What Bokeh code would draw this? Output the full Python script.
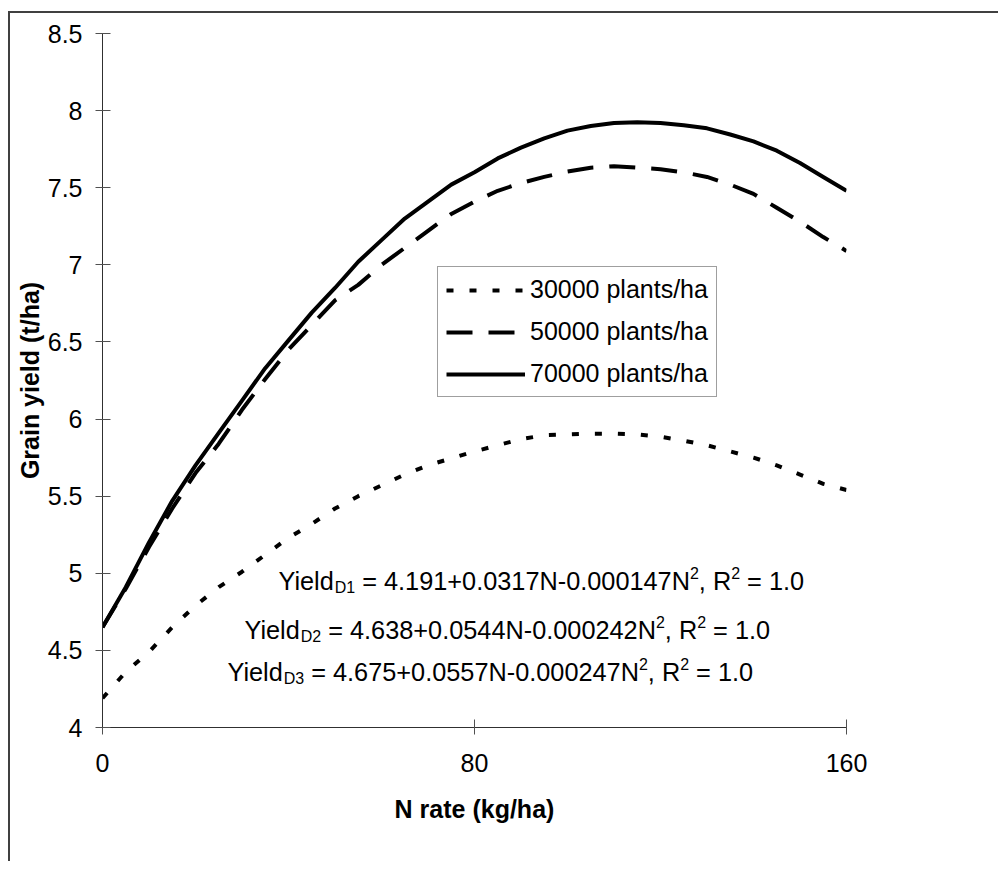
from bokeh.plotting import figure
from bokeh.models import Range1d, FixedTicker, Legend, LegendItem, Label
from bokeh.embed import file_html
from bokeh.resources import INLINE

# ---------------- data ----------------
n_rate = [0, 5, 10, 15, 20, 25, 30, 35, 40, 45, 50, 55, 60, 65, 70, 75, 80,
          85, 90, 95, 100, 105, 110, 115, 120, 125, 130, 135, 140, 145, 150, 155, 160]

yield_30000 = [4.19, 4.36, 4.49, 4.65, 4.79, 4.91, 5.01, 5.12, 5.23, 5.32, 5.42,
               5.50, 5.57, 5.64, 5.70, 5.745, 5.79, 5.83, 5.87, 5.895, 5.90, 5.905,
               5.905, 5.90, 5.885, 5.86, 5.83, 5.79, 5.75, 5.70, 5.64, 5.58, 5.54]

yield_50000 = [4.65, 4.90, 5.17, 5.42, 5.65, 5.84, 6.06, 6.26, 6.45, 6.61, 6.77,
               6.87, 7.00, 7.11, 7.22, 7.33, 7.41, 7.48, 7.53, 7.57, 7.605, 7.63,
               7.64, 7.63, 7.62, 7.60, 7.57, 7.52, 7.46, 7.37, 7.28, 7.18, 7.09]

yield_70000 = [4.65, 4.91, 5.20, 5.47, 5.70, 5.91, 6.12, 6.33, 6.51, 6.69, 6.85,
               7.02, 7.16, 7.30, 7.41, 7.52, 7.60, 7.69, 7.76, 7.82, 7.87, 7.90,
               7.92, 7.925, 7.92, 7.905, 7.885, 7.845, 7.80, 7.74, 7.66, 7.57, 7.48]

series_names = ["30000 plants/ha", "50000 plants/ha", "70000 plants/ha"]

x_ticks = [0, 80, 160]
y_ticks = [4, 4.5, 5, 5.5, 6, 6.5, 7, 7.5, 8, 8.5]
y_tick_labels = ["4", "4.5", "5", "5.5", "6", "6.5", "7", "7.5", "8", "8.5"]

eq_subs = ["D1", "D2", "D3"]
eq_bodies = [" = 4.191+0.0317N-0.000147N",
             " = 4.638+0.0544N-0.000242N",
             " = 4.675+0.0557N-0.000247N"]
eq_tail = ", R"
eq_end = " = 1.0"

# ---------------- layout (page pixels) ----------------
OFF_X, OFF_Y = 10, 13          # canvas origin on page (margin + border)
FR_L, FR_R, FR_T, FR_B = 102, 846, 33, 727
W, H = 990, 850

FONT = "Liberation Sans"
p = figure(width=W, height=H, output_backend="svg", toolbar_location=None,
           x_range=Range1d(0, 160), y_range=Range1d(4, 8.5),
           min_border_left=FR_L - OFF_X, min_border_right=W - (FR_R - OFF_X),
           min_border_top=FR_T - OFF_Y, min_border_bottom=H - (FR_B - OFF_Y))
p.margin = (11, 0, 0, 8)
p.styles = {"border-left": "2px solid #404040", "border-top": "2px solid #404040"}
p.outline_line_color = None
p.xgrid.visible = False
p.ygrid.visible = False
p.background_fill_color = "white"
p.border_fill_color = "white"

for ax in (p.xaxis[0], p.yaxis[0]):
    ax.major_tick_in = 8
    ax.major_tick_out = 7
    ax.minor_tick_line_color = None
    ax.axis_line_color = "#303030"
    ax.major_tick_line_color = "#505050"
    ax.major_label_text_font = FONT
    ax.major_label_text_font_size = "25px"
    ax.major_label_text_color = "black"
    ax.axis_label_text_font = FONT
    ax.axis_label_text_font_size = "25px"
    ax.axis_label_text_font_style = "bold"
    ax.axis_label_text_color = "black"

p.xaxis.ticker = FixedTicker(ticks=x_ticks)
p.yaxis.ticker = FixedTicker(ticks=y_ticks)
p.yaxis.major_label_overrides = {t: s for t, s in zip(y_ticks, y_tick_labels)}
p.xaxis.major_label_standoff = 19
p.yaxis.major_label_standoff = 13
p.xaxis.axis_label = "N rate (kg/ha)"
p.yaxis.axis_label = "Grain yield (t/ha)"
p.xaxis.axis_label_standoff = 20
p.yaxis.axis_label_standoff = 1

r1 = p.line(n_rate, yield_30000, line_color="black", line_width=4, line_dash="7 16")
r2 = p.line(n_rate, yield_50000, line_color="black", line_width=4, line_dash="26 16")
r3 = p.line(n_rate, yield_70000, line_color="black", line_width=4)

legend = Legend(items=[LegendItem(label=series_names[0], renderers=[r1]),
                       LegendItem(label=series_names[1], renderers=[r2]),
                       LegendItem(label=series_names[2], renderers=[r3])],
                location=(335, 330))
legend.label_text_font = FONT
legend.label_text_font_size = "25px"
legend.label_text_color = "black"
legend.glyph_width = 79
legend.glyph_height = 28
legend.label_height = 28
legend.label_standoff = 5
legend.spacing = 13
legend.padding = 8
legend.margin = 0
legend.border_line_color = "#404040"
legend.border_line_width = 1
legend.background_fill_color = "white"
legend.background_fill_alpha = 1
p.add_layout(legend, "center")

# ---------------- equations (built from pieces with sub/superscripts) ----------------
AW = {'Y': 667, 'i': 222, 'e': 556, 'l': 222, 'd': 556, 'D': 722, ' ': 278, '=': 584,
      '.': 278, '+': 584, 'N': 722, '-': 333, ',': 278, 'R': 722}
for c in "0123456789":
    AW[c] = 556

def tw(s, size):
    return sum(AW.get(c, 556) for c in s) / 1000.0 * size

MAIN, SMALL = 25.3, 16
px_per_x = (FR_R - FR_L) / 160.0
px_per_y = (FR_B - FR_T) / 4.5
starts = [(278, 580), (244, 629), (227, 671)]   # page px: left, baseline

for k in range(3):
    sx, sy = starts[k]
    xd = (sx - FR_L) / px_per_x
    yd = 4 + (FR_B - sy) / px_per_y
    pieces = [("Yield", MAIN, 0), (eq_subs[k], SMALL, -7), (eq_bodies[k], MAIN, 0),
              ("2", SMALL, 8), (eq_tail, MAIN, 0), ("2", SMALL, 8), (eq_end, MAIN, 0)]
    off = 0.0
    for txt, size, dy in pieces:
        stripped = txt.lstrip(" ")
        off += tw(txt[:len(txt) - len(stripped)], size)
        p.add_layout(Label(x=xd, y=yd, x_offset=off, y_offset=dy, text=stripped,
                           text_font=FONT, text_font_size=f"{size}px",
                           text_color="black", text_baseline="alphabetic",
                           text_align="left"))
        off += tw(stripped, size)

open("out.html", "w").write(file_html(p, INLINE))
